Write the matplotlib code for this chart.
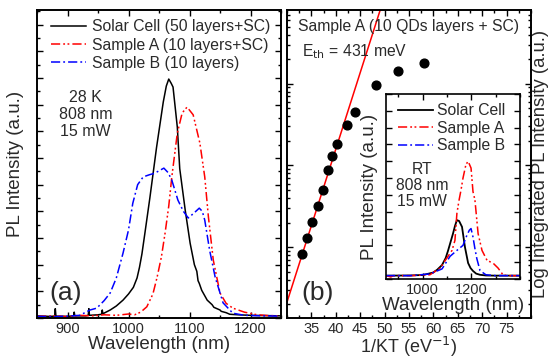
import numpy as np
import matplotlib
matplotlib.use("Agg")
import matplotlib.pyplot as plt
from matplotlib.ticker import MultipleLocator, FixedLocator, NullFormatter, LogLocator

plt.rcParams['font.family'] = ['Liberation Sans', 'DejaVu Sans']
TXT = '#2a2a2a'

# ---------------- Panel (a): 28 K PL spectra ----------------
sc_wl = [850, 870, 879, 880, 881, 900, 910, 911, 912, 930, 934, 935, 936, 950, 956, 957, 958,
         970, 980, 991, 1000, 1008, 1014, 1018, 1022, 1027, 1035, 1046, 1057, 1062, 1066, 1070,
         1073, 1080, 1084, 1093, 1101, 1108, 1112, 1114, 1116, 1120, 1129, 1137, 1140, 1145,
         1150, 1152, 1160, 1166, 1180, 1200, 1225, 1250]
sc_int = [0.008, 0.006, 0.007, 0.035, 0.007, 0.006, 0.008, 0.022, 0.008, 0.008, 0.010, 0.035,
          0.010, 0.012, 0.014, 0.030, 0.016, 0.030, 0.045, 0.067, 0.090, 0.115, 0.150, 0.190,
          0.240, 0.320, 0.450, 0.640, 0.810, 0.870, 0.896, 0.880, 0.866, 0.716, 0.560, 0.404,
          0.281, 0.200, 0.175, 0.140, 0.130, 0.104, 0.067, 0.050, 0.040, 0.035, 0.030, 0.025,
          0.020, 0.014, 0.012, 0.010, 0.009, 0.008]

a_wl = [850, 880, 900, 920, 940, 960, 980, 1000, 1010, 1020, 1030, 1040, 1047, 1054, 1060,
        1066, 1071, 1076, 1080, 1088, 1096, 1106, 1117, 1125, 1131, 1139, 1150, 1160, 1171,
        1190, 1211, 1230, 1250]
a_int = [0.006, 0.008, 0.005, 0.010, 0.008, 0.012, 0.010, 0.015, 0.012, 0.022, 0.042, 0.090,
         0.154, 0.230, 0.319, 0.420, 0.529, 0.620, 0.693, 0.769, 0.791, 0.762, 0.656, 0.529,
         0.379, 0.217, 0.094, 0.055, 0.037, 0.022, 0.012, 0.009, 0.008]

b_wl = [850, 880, 900, 920, 937, 948, 960, 970, 980, 991, 1000, 1007, 1015, 1024, 1034, 1043,
        1050, 1058, 1065, 1071, 1081, 1090, 1098, 1108, 1116, 1121, 1125, 1133, 1142, 1155,
        1171, 1190, 1220, 1250]
b_int = [0.006, 0.005, 0.007, 0.010, 0.030, 0.037, 0.065, 0.094, 0.150, 0.243, 0.330, 0.430,
         0.500, 0.529, 0.537, 0.543, 0.552, 0.562, 0.545, 0.517, 0.442, 0.400, 0.375, 0.395,
         0.412, 0.400, 0.367, 0.254, 0.154, 0.057, 0.018, 0.010, 0.008, 0.007]

# ---------------- Panel (b): Arrhenius plot ----------------
inv_kT = [33.08, 34.10, 35.13, 36.36, 37.38, 38.41, 39.23, 40.26, 42.31, 43.95, 48.26, 52.77, 58.10]
int_pl = [0.0822, 0.129, 0.202, 0.316, 0.495, 0.869, 1.29, 1.85, 3.16, 4.56, 9.72, 14.4, 18.0]
E_th = 0.431          # eV
fit_prefactor = 5.16e-8

# ---------------- Inset: room temperature spectra ----------------
rt_sc_wl = [850, 950, 1002, 1043, 1060, 1080, 1095, 1105, 1115, 1125, 1133, 1141, 1150, 1162,
            1174, 1187, 1197, 1207, 1220, 1236, 1260, 1300, 1400]
rt_sc_int = [0.020, 0.021, 0.024, 0.038, 0.055, 0.083, 0.125, 0.170, 0.220, 0.270, 0.315, 0.350,
             0.345, 0.310, 0.190, 0.095, 0.065, 0.048, 0.032, 0.025, 0.021, 0.020, 0.020]
rt_a_wl = [850, 870, 880, 950, 1030, 1072, 1100, 1121, 1133, 1141, 1150, 1158, 1166, 1178, 1187,
           1199, 1207, 1215, 1228, 1244, 1265, 1289, 1310, 1330, 1345, 1400]
rt_a_int = [0.020, 0.012, 0.020, 0.020, 0.025, 0.065, 0.125, 0.170, 0.230, 0.390, 0.470, 0.530,
            0.600, 0.680, 0.700, 0.660, 0.520, 0.470, 0.270, 0.170, 0.110, 0.095, 0.065, 0.025,
            0.020, 0.020]
rt_b_wl = [850, 950, 1030, 1080, 1113, 1141, 1166, 1182, 1192, 1199, 1207, 1215, 1223, 1236,
           1260, 1300, 1400]
rt_b_int = [0.020, 0.020, 0.030, 0.060, 0.135, 0.170, 0.200, 0.260, 0.290, 0.300, 0.250, 0.180,
            0.120, 0.050, 0.025, 0.020, 0.020]

fig = plt.figure(figsize=(5.52, 3.62), dpi=100)
W, H = 552.0, 362.0
ax1 = fig.add_axes([37 / W, (H - 318) / H, 244 / W, 308 / H])
ax2 = fig.add_axes([287 / W, (H - 318) / H, 244 / W, 308 / H])
axi = fig.add_axes([386 / W, (H - 279) / H, 134 / W, 185 / H])

red_dash = (0, (6, 2, 1.2, 1.6, 1.2, 2))
blue_dash = (0, (6, 2, 1.2, 2))

def style(ax, lw=1.4):
    for s in ax.spines.values():
        s.set_linewidth(lw)
        s.set_color('black')
    ax.tick_params(which='both', direction='in', top=True, right=True,
                   colors='black', labelcolor=TXT, labelsize=10.5, width=1.0, pad=3)
    ax.tick_params(which='major', length=4.5)
    ax.tick_params(which='minor', length=2.5)

# Panel (a)
ax1.plot(sc_wl, sc_int, color='black', lw=1.1, label='Solar Cell (50 layers+SC)')
ax1.plot(a_wl, a_int, color='red', lw=1.1, ls=red_dash, label='Sample A (10 layers+SC)')
ax1.plot(b_wl, b_int, color='blue', lw=1.1, ls=blue_dash, label='Sample B (10 layers)')
ax1.set_xlim(850, 1250)
ax1.set_ylim(0, 1.155)
ax1.xaxis.set_major_locator(FixedLocator([900, 1000, 1100, 1200]))
ax1.xaxis.set_minor_locator(MultipleLocator(50))
ax1.yaxis.set_major_locator(MultipleLocator(0.1))
ax1.yaxis.set_minor_locator(MultipleLocator(0.05))
ax1.yaxis.set_major_formatter(NullFormatter())
style(ax1)
ax1.set_xlabel('Wavelength (nm)', fontsize=13.5, color=TXT, labelpad=0)
ax1.set_ylabel('PL Intensity (a.u.)', fontsize=13.5, color=TXT, labelpad=6)
leg = ax1.legend(loc='upper left', bbox_to_anchor=(0.02, 1.0), frameon=False, fontsize=11.3,
                 handlelength=2.2, labelspacing=0.2, handletextpad=0.4, borderaxespad=0.2)
for t in leg.get_texts():
    t.set_color(TXT)
ax1.text(0.2, 0.66, '28 K\n808 nm\n15 mW', transform=ax1.transAxes, ha='center', va='center',
         fontsize=11.5, color=TXT, linespacing=1.15)
ax1.text(0.05, 0.08, '(a)', transform=ax1.transAxes, ha='left', va='center', fontsize=19, color=TXT)

# Panel (b)
ax2.plot(inv_kT, int_pl, 'o', color='black', ms=6.3, zorder=3)
xf = np.linspace(30, 50, 50)
ax2.plot(xf, fit_prefactor * np.exp(E_th * xf), color='red', lw=1.1, zorder=2)
ax2.set_yscale('log')
ax2.set_xlim(30, 80)
ax2.set_ylim(0.0136, 79.9)
ax2.xaxis.set_major_locator(FixedLocator([35, 40, 45, 50, 55, 60, 65, 70, 75]))
ax2.xaxis.set_minor_locator(MultipleLocator(2.5))
ax2.yaxis.set_major_locator(LogLocator(base=10, numticks=10))
ax2.yaxis.set_minor_locator(LogLocator(base=10, subs=np.arange(2, 10), numticks=10))
ax2.yaxis.set_major_formatter(NullFormatter())
ax2.yaxis.set_minor_formatter(NullFormatter())
style(ax2)
ax2.set_xlabel('1/KT (eV$^{-1}$)', fontsize=13, color=TXT, labelpad=-1)
ax2.yaxis.set_label_position('right')
ax2.set_ylabel('Log Integrated PL Intensity (a.u.)', fontsize=13.3, color=TXT, labelpad=1)
ax2.text(0.045, 0.945, 'Sample A (10 QDs layers + SC)', transform=ax2.transAxes, ha='left',
         va='center', fontsize=11.3, color=TXT)
ax2.text(0.06, 0.865, 'E$_{\\rm th}$ = 431 meV', transform=ax2.transAxes, ha='left',
         va='center', fontsize=11.3, color=TXT)
ax2.text(0.06, 0.08, '(b)', transform=ax2.transAxes, ha='left', va='center', fontsize=19, color=TXT)

# Inset
axi.plot(rt_sc_wl, rt_sc_int, color='black', lw=1.3, label='Solar Cell')
axi.plot(rt_a_wl, rt_a_int, color='red', lw=1.1, ls=red_dash, label='Sample A')
axi.plot(rt_b_wl, rt_b_int, color='blue', lw=1.1, ls=blue_dash, label='Sample B')
axi.set_xlim(850, 1400)
axi.set_ylim(0, 1.1)
axi.xaxis.set_major_locator(FixedLocator([1000, 1200]))
axi.xaxis.set_minor_locator(MultipleLocator(100))
axi.yaxis.set_major_locator(MultipleLocator(0.1))
axi.yaxis.set_major_formatter(NullFormatter())
style(axi, lw=1.2)
axi.set_xlabel('Wavelength (nm)', fontsize=13.5, color=TXT, labelpad=0)
axi.set_ylabel('PL Intensity (a.u.)', fontsize=13.5, color=TXT, labelpad=3)
leg2 = axi.legend(loc='upper left', bbox_to_anchor=(0.02, 1.0), frameon=False, fontsize=11.3,
                  handlelength=2.2, labelspacing=0.15, handletextpad=0.3, borderaxespad=0.2)
for t in leg2.get_texts():
    t.set_color(TXT)
axi.text(0.27, 0.505, 'RT\n808 nm\n15 mW', transform=axi.transAxes, ha='center', va='center',
         fontsize=11.3, color=TXT, linespacing=1.1)

fig.savefig('out.png', dpi=100)
